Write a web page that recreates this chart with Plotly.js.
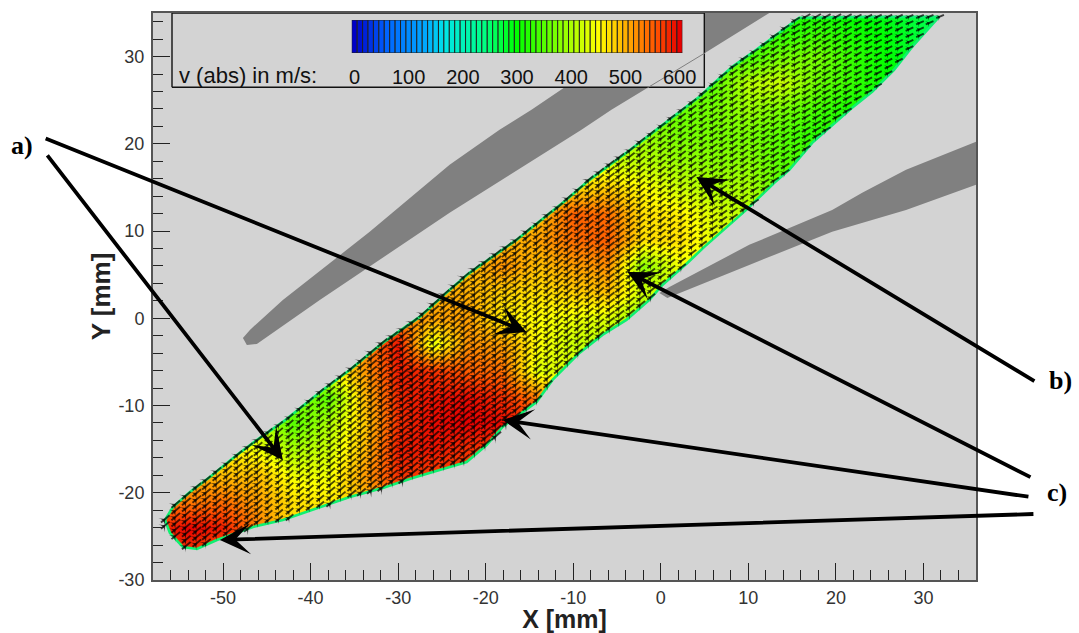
<!DOCTYPE html>
<html><head><meta charset="utf-8">
<script src="https://cdn.plot.ly/plotly-3.0.0.min.js"></script>
<style>html,body{margin:0;padding:0;background:#fff}#g{width:1079px;height:633px}</style></head>
<body><div id="g"></div>
<script>
const _ = null;
const gridX = [-58,-54,-50,-46,-42,-38,-34,-30,-26,-22,-18,-14,-10,-6,-2,2,6,10,14,18,22,26,30,34];
const gridY = [-27,-24,-21,-18,-15,-12,-9,-6,-3,0,3,6,9,12,15,18,21,24,27,30,33,36];
const speed = [
[_,570,550,_,_,_,_,_,_,_,_,_,_,_,_,_,_,_,_,_,_,_,_,_],
[570,600,585,530,470,_,_,_,_,_,_,_,_,_,_,_,_,_,_,_,_,_,_,_],
[_,530,540,510,470,460,490,550,_,_,_,_,_,_,_,_,_,_,_,_,_,_,_,_],
[_,_,490,490,440,440,510,575,565,_,_,_,_,_,_,_,_,_,_,_,_,_,_,_],
[_,_,_,440,400,420,490,585,590,575,565,_,_,_,_,_,_,_,_,_,_,_,_,_],
[_,_,_,_,350,400,480,575,595,600,595,575,_,_,_,_,_,_,_,_,_,_,_,_],
[_,_,_,_,_,350,490,580,590,595,575,530,_,_,_,_,_,_,_,_,_,_,_,_],
[_,_,_,_,_,_,510,585,575,550,540,430,430,_,_,_,_,_,_,_,_,_,_,_],
[_,_,_,_,_,_,_,590,430,520,510,450,420,400,_,_,_,_,_,_,_,_,_,_],
[_,_,_,_,_,_,_,_,510,510,460,450,440,430,380,_,_,_,_,_,_,_,_,_],
[_,_,_,_,_,_,_,_,_,500,480,470,480,490,420,_,_,_,_,_,_,_,_,_],
[_,_,_,_,_,_,_,_,_,490,520,490,510,520,380,440,_,_,_,_,_,_,_,_],
[_,_,_,_,_,_,_,_,_,_,490,510,540,550,470,470,_,_,_,_,_,_,_,_],
[_,_,_,_,_,_,_,_,_,_,_,490,550,540,470,460,430,_,_,_,_,_,_,_],
[_,_,_,_,_,_,_,_,_,_,_,_,470,480,450,420,400,400,350,_,_,_,_,_],
[_,_,_,_,_,_,_,_,_,_,_,_,_,420,410,390,380,380,350,_,_,_,_,_],
[_,_,_,_,_,_,_,_,_,_,_,_,_,_,390,370,370,370,350,320,_,_,_,_],
[_,_,_,_,_,_,_,_,_,_,_,_,_,_,_,360,370,390,370,340,310,_,_,_],
[_,_,_,_,_,_,_,_,_,_,_,_,_,_,_,_,350,410,420,360,330,300,_,_],
[_,_,_,_,_,_,_,_,_,_,_,_,_,_,_,_,_,340,370,370,330,300,270,_],
[_,_,_,_,_,_,_,_,_,_,_,_,_,_,_,_,_,_,320,330,310,295,270,260],
[_,_,_,_,_,_,_,_,_,_,_,_,_,_,_,_,_,_,_,300,290,280,265,250]
];
const scale = [[0,'#0000c8'],[0.1,'#0064ff'],[0.22,'#00aaff'],[0.28,'#00e6e6'],[0.4,'#00ff82'],[0.5,'#00ff00'],[0.667,'#aaff00'],[0.75,'#ffff00'],[0.85,'#ffa000'],[0.93,'#ff5000'],[1,'#e60000']];
const legendValues = [0,10,20,30,40,50,60,70,80,90,100,110,120,130,140,150,160,170,180,190,200,210,220,230,240,250,260,270,280,290,300,310,320,330,340,350,360,370,380,390,400,410,420,430,440,450,460,470,480,490,500,510,520,530,540,550,560,570,580,590,600];
const legendTicks = [0,100,200,300,400,500,600];
const xTicks = [-50,-40,-30,-20,-10,0,10,20,30];
const xTickText = ['-50','-40','-30','-20','-10','0','10','20','30'];
const yTicks = [-30,-20,-10,0,10,20,30];
const yTickText = ['-30','-20','-10','0','10','20','30'];

const upperEdgeX = [-56.63,-55.72,-53.78,-51.5,-48.42,-46.14,-43.17,-38.61,-35.53,-31.76,-27.54,-24.12,-21.84,-19.21,-16.48,-14.65,-10.77,-8.15,-3.93,-0.96,4.4,5.88,8.16,10.9,14.67,15.81,23.79,31.78];
const upperEdgeY = [-23.12,-21.63,-19.91,-18.19,-15.67,-13.95,-11.88,-8.21,-5.92,-2.82,0.16,3.26,5.21,7.04,8.99,10.48,13.58,15.87,18.97,21.26,25.39,26.77,28.83,30.78,33.65,34.45,34.56,34.56];
const lowerEdgeX = [-56.63,-56.06,-54.58,-52.98,-50.7,-46.59,-43.17,-39.75,-35.53,-31.76,-28.34,-25.26,-22.18,-19.9,-18.07,-14.19,-12.37,-9.29,-6.67,-3.93,-1.3,0.18,3.03,4.97,9.76,12.96,14.67,17.29,19.23,21.85,24.14,26.64,28.7,31.78];
const lowerEdgeY = [-23.12,-24.61,-26.22,-26.44,-25.41,-23.92,-23.12,-21.97,-20.48,-19.45,-18.3,-17.39,-16.47,-14.52,-12.45,-9.59,-7.06,-3.97,-1.9,-0.18,2.11,3.83,6.35,8.19,12.43,15.53,17.02,20.11,21.83,24.13,25.96,28.49,31.12,34.56];

const blade1X = [-47.73,-46.93,-43.17,-33.25,-24.12,-18.42,-14.77,-10.89,3.26,12.39,5.08,-1.53,-5.64,-9.06,-24.12,-38.95,-46.14,-47.28,-47.73];
const blade1Y = [-2.25,-1.33,2.11,9.91,17.59,21.61,23.9,26.54,35,35,30.44,26.42,23.9,21.61,12.09,2.11,-2.94,-3.05,-2.25];
const blade2X = [-0.16,0.98,10.1,19.57,23,28.01,36,36,28.01,19.57,10.1,2.12,0.75,-0.16];
const blade2Y = [2.91,3.6,8.42,12.43,14.38,17.02,20.23,15.3,12.43,9.91,6.12,2.91,2.34,2.91];
const bladeEdgeX = [5.08,-1.53];
const bladeEdgeY = [30.44,26.42];
const boxX = [-55.83,4.97,4.97,-55.83,-55.83];
const boxY = [26.48,26.48,35,35,26.48];

const colX = [-56.6,-55.4,-54.2,-53.0,-51.9,-50.7,-49.5,-48.3,-47.1,-46.0,-44.8,-43.6,-42.4,-41.2,-40.1,-38.9,-37.7,-36.5,-35.3,-34.2,-33.0,-31.8,-30.6,-29.4,-28.3,-27.1,-25.9,-24.7,-23.5,-22.4,-21.2,-20.0,-18.8,-17.6,-16.5,-15.3,-14.1,-12.9,-11.7,-10.6,-9.4,-8.2,-7.0,-5.8,-4.7,-3.5,-2.3,-1.1,0.1,1.2,2.4,3.6,4.8,6.0,7.1,8.3,9.5,10.7,11.9,13.0,14.2,15.4,16.6,17.8,18.9,20.1,21.3,22.5,23.7,24.8,26.0,27.2,28.4,29.6,30.7,31.9];
const colTop = [-23,-21.3,-20.3,-19.3,-18.5,-17.5,-16.6,-15.6,-14.7,-13.9,-13,-12.2,-11.3,-10.3,-9.4,-8.4,-7.5,-6.6,-5.7,-4.8,-3.8,-2.8,-2,-1.2,-0.4,0.6,1.7,2.8,3.8,4.8,5.7,6.5,7.4,8.2,9,10,10.9,11.9,12.8,13.8,14.8,15.9,16.8,17.7,18.5,19.3,20.3,21.2,22.1,23,23.9,24.8,25.8,26.9,27.9,28.9,29.8,30.6,31.5,32.4,33.3,34.2,34.6,34.6,34.6,34.6,34.6,34.6,34.6,34.6,34.6,34.6,34.6,34.6,34.6,34.6];
const colBottom = [-24,-25.3,-26.2,-26.4,-25.9,-25.4,-25,-24.5,-24.1,-23.8,-23.5,-23.2,-22.9,-22.5,-22.1,-21.7,-21.2,-20.8,-20.4,-20.1,-19.8,-19.5,-19.1,-18.6,-18.3,-17.9,-17.6,-17.2,-16.9,-16.5,-15.6,-14.6,-13.5,-12.1,-11.3,-10.4,-9.5,-7.8,-6.4,-5.3,-4.1,-3.1,-2.2,-1.4,-0.7,0.2,1.2,2.3,3.7,4.7,5.8,6.9,8,9.1,10.1,11.1,12.2,13.3,14.5,15.6,16.6,17.9,19.3,20.6,21.5,22.6,23.7,24.7,25.6,26.6,27.8,29.2,30.7,32.1,33.4,34.6];
const colAngle = [50,50,50,50,50,50,50,50,50,50,50,50,50,50,50,50,50,50,50,50,50,50,50,50,50,50,50,50,50,50,50,50,50,50,50,50,50,50,50,50,50,50,50,52,52,52,52,52,54,54,54,54,54,56,56,56,56,58,58,58,58,60,60,60,62,62,62,62,64,64,64,64,66,66,66,66];
const colGlyph = [8,8,8,8,8,8,8,8,8,8,7,7,7,7,7,7,8,8,8,8,9,9,9,9,9,9,9,9,9,9,9,9,9,9,8,8,8,8,8,8,8,8,8,8,8,8,8,7,7,7,7,7,7,7,7,7,7,7,7,7,7,7,7,7,7,7,7,6,6,6,6,6,6,6,6,6];
const rowStep = 0.72;

const vx = [], vy = [], va = [], vs = [];
colX.forEach((x, i) => {
  for (let y = colTop[i]; y >= colBottom[i] - 0.01; y -= rowStep) { vx.push(x); vy.push(y); va.push(colAngle[i]); vs.push(colGlyph[i]); }
});

const arrows = [
  {tip:[-15.34,-1.56], tail:[-70.43,20.69]},
  {tip:[-43.17,-16.24], tail:[-70.2,18.85]},
  {tip:[4.06,16.2], tail:[42.84,-7.3]},
  {tip:[-3.81,5.32], tail:[42.39,-18.3]},
  {tip:[-18.07,-11.65], tail:[42.16,-20.48]},
  {tip:[-50.36,-25.41], tail:[42.73,-22.43]}
];

const bg = '#d3d3d3';
const sans = 'Liberation Sans, Arial, sans-serif';
const poly = (x, y, color) => ({type:'scatter', mode:'lines', x, y, fill:'toself', fillcolor:color, line:{width:0, color}, hoverinfo:'skip', showlegend:false});
const traces = [
  {type:'heatmap', x:gridX, y:gridY, z:speed, colorscale:scale, zmin:0, zmax:600, zsmooth:'best', connectgaps:true, showscale:false, hoverinfo:'skip'},
  poly(upperEdgeX.concat([36,36,-58,-58]), upperEdgeY.concat([34.2,35,35,-23.4]), bg),
  poly(lowerEdgeX.concat([36,36,-58,-58]), lowerEdgeY.concat([34.8,-30,-30,-22.8]), bg),
  {type:'scatter', mode:'lines', x:upperEdgeX, y:upperEdgeY, line:{color:'#10f070', width:2.6}, hoverinfo:'skip', showlegend:false},
  {type:'scatter', mode:'lines', x:lowerEdgeX, y:lowerEdgeY, line:{color:'#10f070', width:2.6}, hoverinfo:'skip', showlegend:false},
  poly(blade1X, blade1Y, '#808080'),
  poly(blade2X, blade2Y, '#808080'),
  {type:'scatter', mode:'markers', x:vx, y:vy, marker:{symbol:'line-ew', size:vs, angle:va.map(a=>a-90), color:'#000', line:{width:1.9, color:'#000'}}, hoverinfo:'skip', showlegend:false},
  {type:'scatter', mode:'markers', x:vx, y:vy, marker:{symbol:'arrow-wide', size:vs.map(s=>s-1), angle:va, color:'#000', line:{width:0}}, hoverinfo:'skip', showlegend:false},
  {type:'scatter', mode:'lines', x:boxX, y:boxY, fill:'toself', fillcolor:bg, line:{color:'#111', width:1.4}, hoverinfo:'skip', showlegend:false},
  {type:'scatter', mode:'lines', x:bladeEdgeX, y:bladeEdgeY, line:{color:'#808080', width:1}, hoverinfo:'skip', showlegend:false},
  {type:'bar', x:legendValues, y:legendValues.map(()=>1), width:10, xaxis:'x2', yaxis:'y2', marker:{color:legendValues, colorscale:scale, cmin:0, cmax:600, line:{color:'#222', width:1}}, hoverinfo:'skip', showlegend:false}
];

const tickFont = {family:sans, size:18, color:'#333'};
const axisBase = {showgrid:false, zeroline:false, showline:true, mirror:true, linecolor:'#555', linewidth:2, ticks:'inside', ticklen:17, tickcolor:'#222', tickwidth:1, tickfont:tickFont, tickmode:'array',
  minor:{dtick:2, ticks:'inside', ticklen:10, tickcolor:'#222', tickwidth:1, showgrid:false}};
const serif = {family:'Liberation Serif, Times New Roman, serif', size:26, color:'#000'};
const layout = {
  width:1079, height:633, margin:{l:153, r:103, t:13, b:53}, paper_bgcolor:'#fff', plot_bgcolor:bg, showlegend:false, bargap:0,
  xaxis:Object.assign({}, axisBase, {range:[-58,36], tickvals:xTicks, ticktext:xTickText, ticklabelstandoff:0, title:{text:'<b>X [mm]</b>', standoff:6, font:{family:sans, size:25, color:'#222'}}}),
  yaxis:Object.assign({}, axisBase, {range:[-30,35], tickvals:yTicks, ticktext:yTickText, ticklabelstandoff:3, title:{text:'<b>Y [mm]</b>', standoff:0, font:{family:sans, size:26, color:'#222'}}}),
  xaxis2:{domain:[0.2415,0.6432], range:[-5,605], anchor:'y2', tickmode:'array', tickvals:legendTicks, ticklen:0, ticks:'', showgrid:false, zeroline:false, showline:false, ticklabelstandoff:10, tickfont:{family:sans, size:20, color:'#111'}},
  yaxis2:{domain:[0.9295,0.9877], range:[0,1], anchor:'x2', showticklabels:false, ticks:'', showgrid:false, zeroline:false, showline:false},
  annotations: arrows.map(a => ({x:a.tip[0], y:a.tip[1], xref:'x', yref:'y', ax:a.tail[0], ay:a.tail[1], axref:'x', ayref:'y', text:'', showarrow:true, arrowhead:3, arrowsize:1.35, arrowwidth:3.8, arrowcolor:'#000', standoff:0})).concat([
    {xref:'paper', yref:'paper', x:0.029, y:0.889, xanchor:'left', yanchor:'middle', text:'v (abs) in m/s:', showarrow:false, font:{family:sans, size:22, color:'#111'}},
    {xref:'paper', yref:'paper', x:-0.159, y:0.767, xanchor:'center', yanchor:'middle', text:'<b>a)</b>', showarrow:false, font:serif},
    {xref:'paper', yref:'paper', x:1.103, y:0.351, xanchor:'center', yanchor:'middle', text:'<b>b)</b>', showarrow:false, font:serif},
    {xref:'paper', yref:'paper', x:1.098, y:0.155, xanchor:'center', yanchor:'middle', text:'<b>c)</b>', showarrow:false, font:serif}
  ])
};
Plotly.newPlot('g', traces, layout, {displayModeBar:false, staticPlot:true});
</script></body></html>
